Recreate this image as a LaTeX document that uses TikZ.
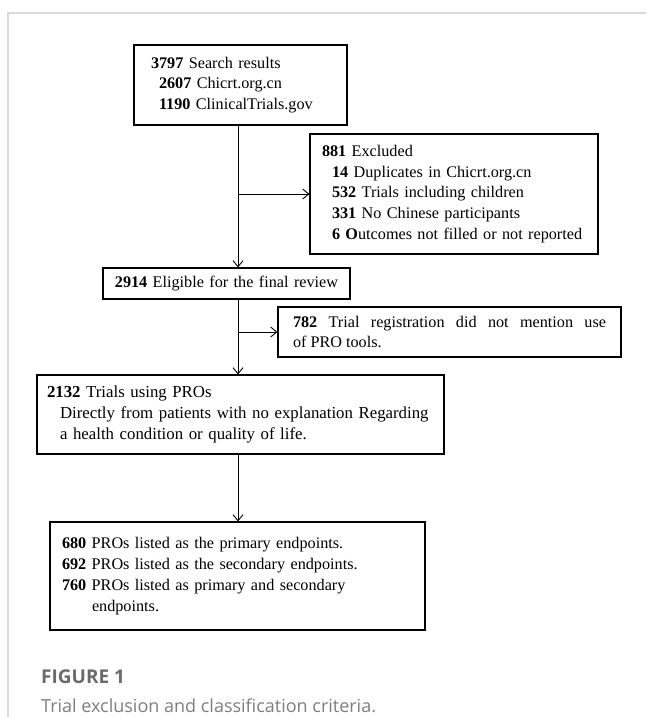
\documentclass[tikz,border=0pt]{standalone}
\usepackage{fontspec}
\setmainfont{Liberation Serif}
\newfontfamily\capfont{Open Sans}
\usetikzlibrary{arrows.meta}
\definecolor{framegray}{HTML}{D9D9D9}
\definecolor{capdark}{HTML}{6A6A6A}
\definecolor{caplight}{HTML}{7E7E7E}
\tikzset{
  box/.style={draw, line width=1.2pt, align=left, inner ysep=0pt,
    font=\fontsize{16.2}{20.8}\selectfont},
  arr/.style={-{Straight Barb[length=6pt,width=10pt]}, line width=0.9pt}
}
\begin{document}
\begin{tikzpicture}[x=1pt,y=-1pt]
\useasboundingbox (0,0) rectangle (646,717);
\fill[white] (0,0) rectangle (646,717);
\draw[framegray, line width=1.2pt] (8,717) -- (8,13) -- (646,13);
\coordinate (spine) at (238,0);

\node[box, inner xsep=17pt, text width=179pt, minimum height=80pt] (b1) at (240.5,85)
  {\textbf{3797} Search results\\
   \hspace*{8pt}\textbf{2607} Chicrt.org.cn\\
   \hspace*{8pt}\textbf{1190} ClinicalTrials.gov};

\node[box, inner xsep=12pt, text width=264pt, minimum height=120pt] (b2) at (454,194)
  {\textbf{881} Excluded\\
   \hspace*{10pt}\textbf{14} Duplicates in Chicrt.org.cn\\
   \hspace*{10pt}\textbf{532} Trials including children\\
   \hspace*{10pt}\textbf{331} No Chinese participants\\
   \hspace*{10pt}\textbf{6 O}utcomes not filled or not reported};

\node[box, align=center, inner xsep=4pt, text width=239pt, minimum height=31pt] (b3) at (226.5,283.5)
  {\textbf{2914} Eligible for the final review};

\node[box, align=justify, inner xsep=15pt, text width=313pt, minimum height=50pt] (b5) at (449.5,332)
  {\textbf{782} Trial registration did not mention use\linebreak of PRO tools.};

\node[box, inner xsep=10pt, text width=387pt, minimum height=79pt,
      font=\fontsize{16.8}{21}\selectfont] (b4) at (240.5,414.5)
  {\textbf{2132} Trials using PROs\\
   \hspace*{13pt}Directly from patients with no explanation Regarding\\
   \hspace*{13pt}a health condition or quality of life.};

\node[box, inner xsep=12pt, text width=351pt, minimum height=108pt] (b6) at (237.5,576)
  {\textbf{680} PROs listed as the primary endpoints.\\
   \textbf{692} PROs listed as the secondary endpoints.\\
   \textbf{760} PROs listed as primary and secondary\\
   \hspace*{30pt}endpoints.};

\draw[arr] (b1.south -| spine) -- (b3.north -| spine);
\draw[arr] (spine |- b2.west) -- (b2.west);
\draw[arr] (b3.south -| spine) -- (b4.north -| spine);
\draw[arr] (spine |- b5.west) -- (b5.west);
\draw[arr] (b4.south -| spine) -- (b6.north -| spine);

\node[anchor=base west, inner sep=0pt, text=capdark, font=\capfont\bfseries\fontsize{19}{22}\selectfont] (fig) at (41,683) {FIGURE 1};
\node[anchor=base west, inner sep=0pt, text=caplight, font=\capfont\fontsize{18}{21}\selectfont] (cap) at (41,712) {Trial exclusion and classification criteria.};
\end{tikzpicture}
\end{document}
